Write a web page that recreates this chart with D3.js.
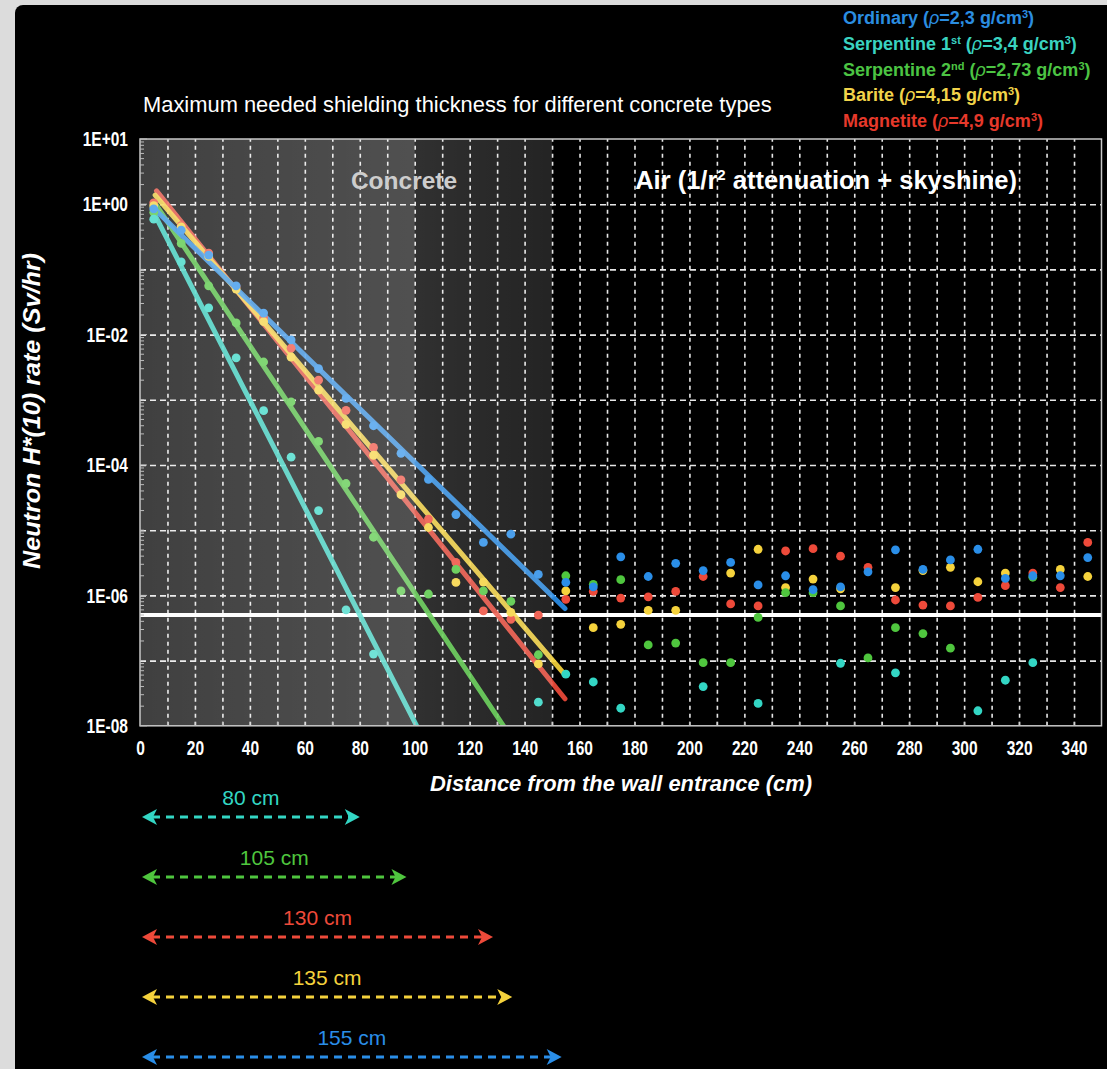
<!DOCTYPE html>
<html>
<head>
<meta charset="utf-8">
<script src="https://cdn.jsdelivr.net/npm/d3@7"></script>
<style>
  body { margin: 0; background: #dcdcdc; }
  svg { display: block; }
  .sans { font-family: "Liberation Sans", Arial, sans-serif; }
  .tick text { font-family: "Liberation Sans", Arial, sans-serif; font-weight: bold; }
</style>
</head>
<body>
<svg width="1107" height="1069"></svg>
<script>
// distance bins (cm) and neutron H*(10) rate (Sv/hr) per concrete type
var xs = [5, 15, 25, 35, 45, 55, 65, 75, 85, 95, 105, 115, 125, 135, 145, 155, 165, 175, 185, 195,
          205, 215, 225, 235, 245, 255, 265, 275, 285, 295, 305, 315, 325, 335, 345];

var ordinary = [0.85, 0.40, 0.166, 0.056, 0.0214, 8.3e-3, 3.0e-3, 1.05e-3, 4.0e-4, 1.51e-4,
                6.0e-5, 1.74e-5, 6.5e-6, 8.7e-6, 2.1e-6, 1.58e-6, 1.35e-6, 3.9e-6, 1.95e-6, 3.1e-6,
                2.4e-6, 3.2e-6, 1.45e-6, 2.0e-6, 1.23e-6, 1.35e-6, 2.3e-6, 5.0e-6, 2.5e-6, 3.5e-6,
                5.1e-6, 1.82e-6, 2.0e-6, 2.0e-6, 3.8e-6];
var serpentine1 = [0.59, 0.13, 0.0257, 4.4e-3, 6.8e-4, 1.32e-4, 2.0e-5, 6.0e-7, 1.26e-7, null,
                   null, null, null, null, 2.3e-8, 6.2e-8, 4.7e-8, 1.86e-8, null, null,
                   4.0e-8, null, 2.2e-8, null, null, 9.1e-8, null, 6.5e-8, null, null,
                   1.7e-8, 5.0e-8, 9.3e-8, null, null];
var serpentine2 = [0.75, 0.25, 0.056, 0.0151, 3.8e-3, 9.3e-4, 2.3e-4, 5.2e-5, 7.8e-6, 1.17e-6,
                   1.05e-6, 2.5e-6, 1.17e-6, 8.1e-7, 1.23e-7, 2.0e-6, 1.48e-6, 1.74e-6, 1.74e-7, 1.86e-7,
                   9.3e-8, 9.3e-8, 4.6e-7, 1.1e-6, 1.1e-6, 6.9e-7, 1.1e-7, 3.2e-7, 2.6e-7, 1.55e-7,
                   null, null, 1.9e-6, null, null];
var barite = [0.95, 0.45, 0.158, 0.05, 0.0158, 4.5e-3, 1.41e-3, 4.2e-4, 1.41e-4, 3.5e-5,
              1.1e-5, 1.58e-6, 1.6e-6, 5.5e-7, 8.9e-8, 1.17e-6, 3.2e-7, 3.6e-7, 5.9e-7, 5.9e-7,
              null, 2.2e-6, 5.1e-6, 1.32e-6, 1.78e-6, 1.26e-6, null, 1.32e-6, 2.4e-6, 2.7e-6,
              1.62e-6, 2.2e-6, null, 2.5e-6, 1.95e-6];
var magnetite = [1.05, 0.47, 0.178, 0.054, 0.018, 6.2e-3, 2.0e-3, 6.9e-4, 1.86e-4, 5.9e-5,
                 1.48e-5, 3.2e-6, 5.8e-7, 4.3e-7, 5.0e-7, 8.7e-7, 1.15e-6, 9.1e-7, 9.5e-7, 1.15e-6,
                 1.95e-6, 7.4e-7, 6.9e-7, 4.8e-6, 5.2e-6, 4.0e-6, 2.7e-6, 8.5e-7, 7.1e-7, 6.9e-7,
                 9.3e-7, 1.41e-6, 2.2e-6, 1.32e-6, 6.5e-6];

var seriesNames = ["Ordinary", "Serpentine 1", "Serpentine 2", "Barite", "Magnetite"];
var nameSups = ["", "st", "nd", "", ""];
var densities = ["2,3", "3,4", "2,73", "4,15", "4,9"];
var colors = ["#2a8ee8", "#33d6c4", "#4fc63e", "#f5d23c", "#ee4a3a"];
var legendColors = ["#2b8de0", "#3ad3c0", "#4cc443", "#f2d44a", "#e6392b"];

// exponential trend lines: [distance, rate] at start and end
var fitStart = [[4.5, 0.91], [4.8, 0.77], [5.5, 1.03], [5.5, 1.38], [6, 1.6]];
var fitEnd = [[154.7, 6.3e-7], [100.7, 1e-8], [132.3, 1e-8], [154.1, 6.5e-8], [154.7, 2.6e-8]];

var limitValue = 5e-7;
var xTicks = [0, 20, 40, 60, 80, 100, 120, 140, 160, 180, 200, 220, 240, 260, 280, 300, 320, 340];
var yTicks = [1e1, 1e0, 1e-2, 1e-4, 1e-6, 1e-8];

// needed thickness arrows (cm), order: serp1, serp2, magnetite, barite, ordinary
var thicknessLabels = [80, 105, 130, 135, 155];
var arrowEndCm = [80, 97, 128.5, 135.5, 153.5];
var arrowSeries = [1, 2, 4, 3, 0];

var svg = d3.select("svg"),
    margin = {top: 139, left: 140},
    width = 961.5,
    height = 586.8,
    narrow = 0.74;

svg.append("rect").attr("x", 15).attr("y", 5).attr("width", 1100).attr("height", 1080)
    .attr("rx", 8).attr("fill", "#000");

var x = d3.scaleLinear().domain([0, 350]).range([0, width]);
var y = d3.scaleLog().domain([1e-8, 10]).range([height, 0]);

var defs = svg.append("defs");
defs.append("clipPath").attr("id", "plotclip")
  .append("rect").attr("width", width).attr("height", height);

var g1 = defs.append("linearGradient").attr("id", "concrete1");
[[0, 0.25], [0.5, 0.285], [1, 0.315]].forEach(function(s) {
  g1.append("stop").attr("offset", s[0]).attr("stop-color", "#fff").attr("stop-opacity", s[1]);
});
var g2 = defs.append("linearGradient").attr("id", "concrete2");
[[0, 0.19], [1, 0.14]].forEach(function(s) {
  g2.append("stop").attr("offset", s[0]).attr("stop-color", "#fff").attr("stop-opacity", s[1]);
});

var g = svg.append("g").attr("transform", "translate(" + margin.left + "," + margin.top + ")");

// dashed grid
g.append("g")
    .attr("transform", "translate(0," + height + ")")
    .call(d3.axisBottom(x).tickValues(d3.range(10, 350, 10)).tickSize(-height).tickFormat(""))
    .call(function(s) { s.select(".domain").remove(); })
    .selectAll("line").attr("stroke", "#e6e6e6").attr("stroke-width", 1.6).attr("stroke-dasharray", "4,4");
g.append("g")
    .call(d3.axisLeft(y).tickValues([1e0, 1e-1, 1e-2, 1e-3, 1e-4, 1e-5, 1e-6, 1e-7]).tickSize(-width).tickFormat(""))
    .call(function(s) { s.select(".domain").remove(); })
    .selectAll("line").attr("stroke", "#e6e6e6").attr("stroke-width", 1.6).attr("stroke-dasharray", "6,4");

// limit line
g.append("line")
    .attr("x1", 0).attr("x2", width)
    .attr("y1", y(limitValue)).attr("y2", y(limitValue))
    .attr("stroke", "#fff").attr("stroke-width", 4);

var allSeries = [ordinary, serpentine1, serpentine2, barite, magnetite];
var drawOrder = [4, 3, 2, 1, 0];

var plot = g.append("g").attr("clip-path", "url(#plotclip)");
drawOrder.forEach(function(i) {
  plot.append("line")
      .attr("x1", x(fitStart[i][0])).attr("y1", y(fitStart[i][1]))
      .attr("x2", x(fitEnd[i][0])).attr("y2", y(fitEnd[i][1]))
      .attr("stroke", colors[i]).attr("stroke-width", 5).attr("stroke-linecap", "round")
      .attr("stroke-opacity", 0.92);
});
drawOrder.forEach(function(i) {
  var pts = xs.map(function(d, k) { return {x: d, v: allSeries[i][k]}; })
      .filter(function(d) { return d.v != null; });
  plot.selectAll(null).data(pts).enter().append("circle")
      .attr("cx", function(d) { return x(d.x); })
      .attr("cy", function(d) { return y(d.v); })
      .attr("r", 4.4)
      .attr("fill", colors[i]);
});

// concrete overlays
g.append("rect").attr("x", 0).attr("y", 0).attr("width", x(100)).attr("height", height)
    .attr("fill", "url(#concrete1)");
g.append("rect").attr("x", x(100)).attr("y", 0).attr("width", x(150) - x(100)).attr("height", height)
    .attr("fill", "url(#concrete2)");

// frame
g.append("rect").attr("width", width).attr("height", height)
    .attr("fill", "none").attr("stroke", "#c8c8c8").attr("stroke-width", 1.5);

// minor ticks on log axis
g.append("g").selectAll("line").data(y.ticks()).enter().append("line")
    .attr("x1", 0).attr("x2", function(d) { return yTicks.indexOf(d) >= 0 ? 7 : 4; })
    .attr("y1", function(d) { return y(d); }).attr("y2", function(d) { return y(d); })
    .attr("stroke", "#bbb").attr("stroke-width", 1);
g.append("g").selectAll("line").data(d3.range(10, 350, 10)).enter().append("line")
    .attr("x1", function(d) { return x(d); }).attr("x2", function(d) { return x(d); })
    .attr("y1", height).attr("y2", height - 4)
    .attr("stroke", "#bbb").attr("stroke-width", 1);

function expLabel(v) {
  var e = Math.round(Math.log10(v));
  return "1E" + (e >= 0 ? "+" : "-") + (Math.abs(e) < 10 ? "0" : "") + Math.abs(e);
}

var xAxis = g.append("g")
    .attr("transform", "translate(0," + height + ")")
    .call(d3.axisBottom(x).tickValues(xTicks).tickSize(0).tickPadding(14));
xAxis.select(".domain").remove();
xAxis.selectAll("text").attr("fill", "#fff").attr("font-size", 21)
    .attr("transform", "scale(" + narrow + ",1)");

var yAxis = g.append("g")
    .call(d3.axisLeft(y).tickValues(yTicks).tickFormat(expLabel).tickSize(0).tickPadding(12));
yAxis.select(".domain").remove();
yAxis.selectAll("text").attr("fill", "#fff").attr("font-size", 21)
    .attr("x", -12 / narrow).attr("transform", "scale(" + narrow + ",1)");

// axis titles
svg.append("text").attr("class", "sans").attr("font-weight", "bold").attr("font-style", "italic")
    .attr("x", 621).attr("y", 791).attr("text-anchor", "middle")
    .attr("fill", "#fff").attr("font-size", 22)
    .attr("textLength", 382).attr("lengthAdjust", "spacingAndGlyphs")
    .text("Distance from the wall entrance (cm)");
svg.append("text").attr("class", "sans").attr("font-weight", "bold").attr("font-style", "italic")
    .attr("transform", "translate(40,411) rotate(-90)").attr("text-anchor", "middle")
    .attr("fill", "#fff").attr("font-size", 23)
    .attr("textLength", 316).attr("lengthAdjust", "spacingAndGlyphs")
    .text("Neutron H*(10) rate (Sv/hr)");

// title and region labels
svg.append("text").attr("class", "sans")
    .attr("x", 143).attr("y", 112).attr("fill", "#fff").attr("font-size", 21.9)
    .text("Maximum needed shielding thickness for different concrete types");
svg.append("text").attr("class", "sans").attr("font-weight", "bold")
    .attr("x", 404).attr("y", 189).attr("text-anchor", "middle")
    .attr("fill", "#cdcdcd").attr("font-size", 24.5).text("Concrete");
svg.append("text").attr("class", "sans").attr("font-weight", "bold")
    .attr("x", 826).attr("y", 189).attr("text-anchor", "middle")
    .attr("fill", "#fff").attr("font-size", 25.5)
    .call(function(t) {
      t.append("tspan").text("Air (1/r");
      t.append("tspan").attr("font-size", 15).attr("dy", -9).text("2");
      t.append("tspan").attr("dy", 9).text(" attenuation + skyshine)");
    });

// legend
seriesNames.forEach(function(name, i) {
  var t = svg.append("text").attr("class", "sans").attr("font-weight", "bold")
      .attr("x", 843).attr("y", 24 + i * 25.8).attr("fill", legendColors[i]).attr("font-size", 18);
  t.append("tspan").text(name);
  if (nameSups[i]) t.append("tspan").attr("font-size", 11).attr("dy", -6).text(nameSups[i]);
  t.append("tspan").attr("dy", nameSups[i] ? 6 : 0).text(" (");
  t.append("tspan").attr("font-style", "italic").attr("font-weight", "normal").text("\u03c1");
  t.append("tspan").text("=" + densities[i] + " g/cm");
  t.append("tspan").attr("font-size", 11).attr("dy", -6).text("3");
  t.append("tspan").attr("dy", 6).text(")");
});

// thickness arrows
thicknessLabels.forEach(function(v, k) {
  var c = colors[arrowSeries[k]];
  var yy = 817 + k * 60;
  var x0 = margin.left + x(0) + 2, x1 = margin.left + x(arrowEndCm[k]);
  var a = svg.append("g");
  a.append("line").attr("x1", x0 + 10).attr("x2", x1 - 10).attr("y1", yy).attr("y2", yy)
      .attr("stroke", c).attr("stroke-width", 3).attr("stroke-dasharray", "8,6");
  a.append("path").attr("fill", c)
      .attr("d", "M" + x0 + "," + yy + "L" + (x0 + 15) + "," + (yy - 8) + "L" + (x0 + 11) + "," + yy +
                 "L" + (x0 + 15) + "," + (yy + 8) + "Z");
  a.append("path").attr("fill", c)
      .attr("d", "M" + x1 + "," + yy + "L" + (x1 - 15) + "," + (yy - 8) + "L" + (x1 - 11) + "," + yy +
                 "L" + (x1 - 15) + "," + (yy + 8) + "Z");
  a.append("text").attr("class", "sans")
      .attr("x", (x0 + x1) / 2).attr("y", yy - 12).attr("text-anchor", "middle")
      .attr("fill", c).attr("font-size", 21).text(v + " cm");
});
</script>
</body>
</html>
